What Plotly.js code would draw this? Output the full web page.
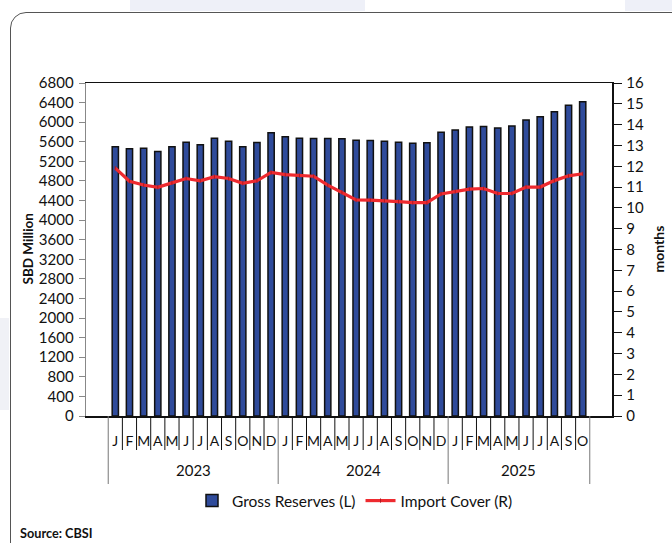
<!DOCTYPE html>
<html>
<head>
<meta charset="utf-8">
<script src="https://cdn.plot.ly/plotly-3.0.1.min.js"></script>
<style>
  html, body { margin: 0; padding: 0; background: #fff; }
  #wrap { position: relative; width: 672px; height: 543px; overflow: hidden; }
  #chart { position: absolute; left: 0; top: 0; width: 672px; height: 543px; }
  #frame { position: absolute; left: 10px; top: 12px; width: 700px; height: 560px;
           border: 1px solid #555; border-radius: 16px; pointer-events: none; }
  .bg1 { position: absolute; left: 130px; top: 0; width: 235px; height: 11px; background: #eef0f8; }
  .bg2 { position: absolute; left: 625px; top: 0; width: 47px; height: 11px; background: #eef0f8; }
  .bg3 { position: absolute; left: 0; top: 318px; width: 9px; height: 92px; background: #f0f1f6; }
</style>
</head>
<body>
<div id="wrap">
  <div class="bg1"></div><div class="bg2"></div><div class="bg3"></div>
  <div id="frame"></div>
  <div id="chart"></div>
</div>
<script>
// ---- Data (Jan 2023 – Oct 2025) ----
const years = ['2023','2023','2023','2023','2023','2023','2023','2023','2023','2023','2023','2023',
               '2024','2024','2024','2024','2024','2024','2024','2024','2024','2024','2024','2024',
               '2025','2025','2025','2025','2025','2025','2025','2025','2025','2025'];
const months = ['J','F','M','A','M','J','J','A','S','O','N','D',
                'J','F','M','A','M','J','J','A','S','O','N','D',
                'J','F','M','A','M','J','J','A','S','O'];
const grossReserves = [5500, 5458, 5470, 5403, 5500, 5592, 5540, 5673, 5612, 5500, 5586, 5782,
                       5700, 5673, 5666, 5666, 5660, 5632, 5626, 5612, 5592, 5572, 5580, 5795,
                       5842, 5903, 5910, 5883, 5923, 6046, 6113, 6215, 6344, 6418];
const importCover = [11.91, 11.28, 11.10, 10.99, 11.20, 11.41, 11.30, 11.50, 11.41, 11.18, 11.30, 11.70,
                     11.60, 11.55, 11.52, 11.09, 10.75, 10.38, 10.37, 10.35, 10.30, 10.25, 10.25, 10.67,
                     10.78, 10.90, 10.93, 10.69, 10.69, 11.00, 11.00, 11.31, 11.54, 11.64];
const leftTicks = [0,400,800,1200,1600,2000,2400,2800,3200,3600,4000,4400,4800,5200,5600,6000,6400,6800];
const rightTicks = [0,1,2,3,4,5,6,7,8,9,10,11,12,13,14,15,16];

const FONT = 'Lato, "Open Sans", sans-serif';
const ML = 86, MR = 60, MT = 83, MB = 127;
const PLOT_H = 543 - MT - MB;            // plot height in px
const PLOT_W = 672 - ML - MR;            // paper width in px
const px = p => -p / PLOT_H;             // px below the x axis -> paper y
const pxX = p => (p - ML) / PLOT_W;      // absolute px -> paper x

// unique category key per month
const keys = months.map((m, i) => years[i] + '-' + (i % 12 + 1));

// separators between months and between years, year labels – derived from the categories
const shapes = [];
for (let i = 0; i <= keys.length; i++) {
  const yearEdge = (i === 0 || i === keys.length || years[i] !== years[i - 1]);
  shapes.push({
    type: 'line', xref: 'x', yref: 'paper', x0: i - 0.5, x1: i - 0.5,
    y0: 0, y1: px(yearEdge ? 68 : 34),
    line: { color: yearEdge ? '#777' : '#111', width: 1 }
  });
}
const uniqueYears = [...new Set(years)];
const yearAnnots = uniqueYears.map(yr => {
  const idx = years.map((v, i) => v === yr ? i : -1).filter(i => i >= 0);
  return {
    text: yr, xref: 'x', yref: 'paper', x: (idx[0] + idx[idx.length - 1]) / 2, y: px(54),
    xanchor: 'center', yanchor: 'middle', showarrow: false,
    font: { family: FONT, size: 15, color: '#111' }
  };
});

const traces = [
  {
    type: 'bar', name: 'Gross Reserves (L)', x: keys, y: grossReserves,
    marker: { color: '#2F4B9B', line: { color: '#111', width: 1.5 } },
    yaxis: 'y'
  },
  {
    type: 'scatter', mode: 'lines+markers', name: 'Import Cover (R)', x: keys, y: importCover,
    line: { color: '#EE2A2F', width: 3.2 },
    marker: { color: '#B01A22', size: 3, symbol: 'line-ns', line: { color: '#B01A22', width: 1 } },
    yaxis: 'y2'
  }
];

const layout = {
  width: 672, height: 543,
  paper_bgcolor: 'rgba(0,0,0,0)', plot_bgcolor: 'rgba(0,0,0,0)',
  margin: { l: ML, r: MR, t: MT, b: MB, autoexpand: false },
  font: { family: FONT, size: 15, color: '#111' },
  bargap: 0.56,
  showlegend: true,
  legend: {
    orientation: 'h', x: pxX(355), xanchor: 'center', y: px(85), yanchor: 'middle',
    font: { family: FONT, size: 15.5, color: '#111' }, traceorder: 'normal',
    bgcolor: 'rgba(0,0,0,0)'
  },
  xaxis: {
    type: 'category', categoryorder: 'array', categoryarray: keys,
    tickmode: 'array', tickvals: keys, ticktext: months, tickangle: 0,
    showline: true, linecolor: '#111', linewidth: 1.5, mirror: true,
    ticks: '', ticklabelstandoff: 12,
    tickfont: { family: FONT, size: 14, color: '#111' },
    showgrid: false, zeroline: false, automargin: false
  },
  yaxis: {
    range: [0, 6800], tickvals: leftTicks, ticktext: leftTicks.map(v => v + '\u2009'),
    showline: true, linecolor: '#888', linewidth: 1.5,
    ticks: 'outside', ticklen: 6, tickcolor: '#888', tickwidth: 1,
    tickfont: { family: FONT, size: 15, color: '#111' },
    showgrid: false, zeroline: false, automargin: false
  },
  yaxis2: {
    overlaying: 'y', side: 'right', range: [0, 16], tickvals: rightTicks,
    ticktext: rightTicks.map(v => '\u2009' + v),
    showline: true, linecolor: '#111', linewidth: 1.5,
    ticks: 'outside', ticklen: 8, tickcolor: '#111', tickwidth: 1,
    tickfont: { family: FONT, size: 15, color: '#111' },
    showgrid: false, zeroline: false, automargin: false
  },
  shapes: shapes,
  annotations: yearAnnots.concat([
    { text: '<b>SBD Million</b>', xref: 'paper', yref: 'paper', x: pxX(27), y: 0.5,
      xanchor: 'center', yanchor: 'middle', textangle: -90, showarrow: false,
      font: { family: FONT, size: 13.5, color: '#111' } },
    { text: '<b>months</b>', xref: 'paper', yref: 'paper', x: pxX(658), y: 0.5,
      xanchor: 'center', yanchor: 'middle', textangle: -90, showarrow: false,
      font: { family: FONT, size: 14, color: '#111' } },
    { text: '<b>Source: CBSI</b>', xref: 'paper', yref: 'paper', x: pxX(18), y: px(117),
      xanchor: 'left', yanchor: 'middle', showarrow: false, font: { family: FONT, size: 12.7, color: '#111' } }
  ])
};

Plotly.newPlot('chart', traces, layout, { displayModeBar: false, staticPlot: true });
</script>
</body>
</html>
